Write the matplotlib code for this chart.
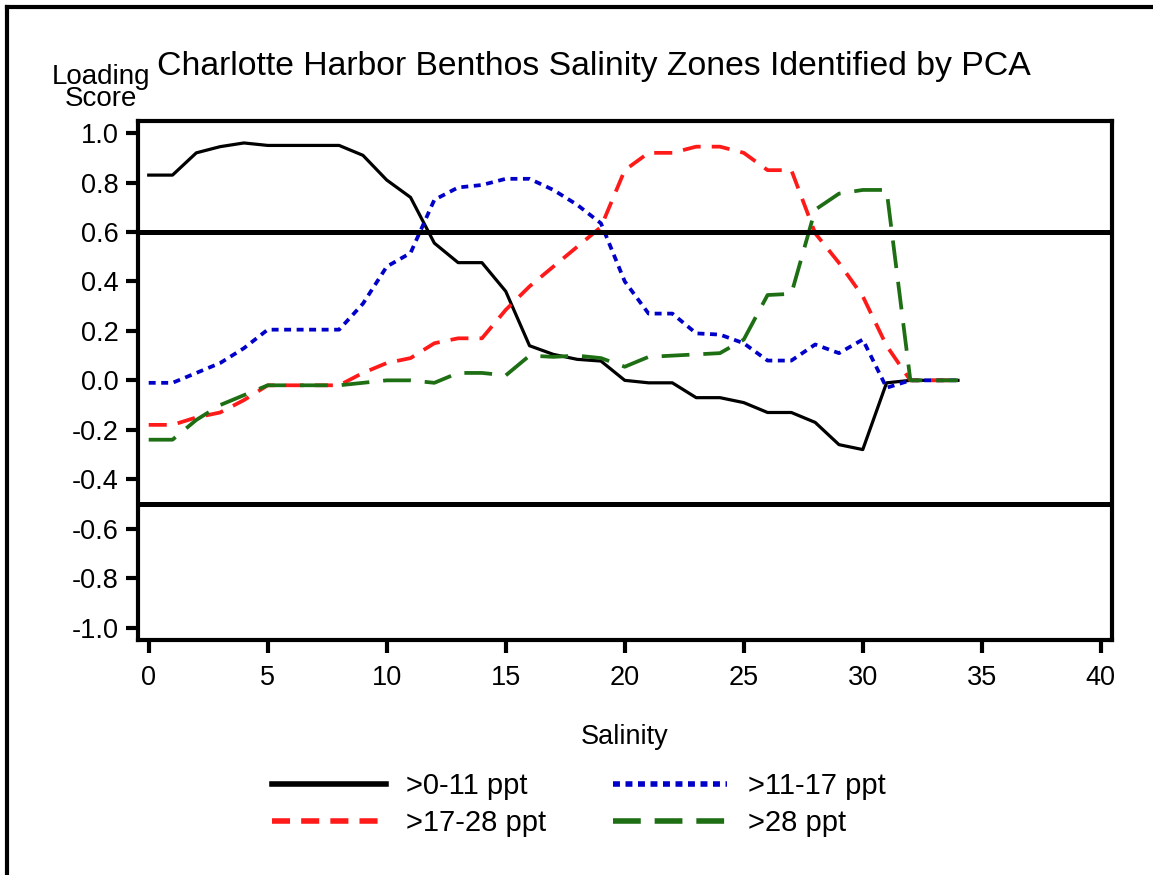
import matplotlib
matplotlib.use("Agg")
import matplotlib.pyplot as plt
from matplotlib.lines import Line2D

plt.rcParams['font.family'] = ['Liberation Sans', 'DejaVu Sans']
plt.rcParams['lines.scale_dashes'] = False

salinity = list(range(0, 35))
zone_0_11 = [0.83, 0.83, 0.92, 0.945, 0.96, 0.95, 0.95, 0.95, 0.95, 0.91,
             0.81, 0.74, 0.555, 0.476, 0.476, 0.36, 0.14, 0.105, 0.085, 0.078,
             0.0, -0.01, -0.01, -0.07, -0.07, -0.09, -0.13, -0.13, -0.17, -0.26,
             -0.28, -0.01, 0.0, 0.0, 0.0]
zone_11_17 = [-0.01, -0.01, 0.03, 0.07, 0.13, 0.205, 0.205, 0.205, 0.205, 0.31,
              0.46, 0.515, 0.73, 0.78, 0.79, 0.815, 0.815, 0.77, 0.71, 0.635,
              0.40, 0.27, 0.27, 0.19, 0.185, 0.15, 0.08, 0.08, 0.145, 0.11,
              0.165, -0.03, 0.0, 0.0, 0.0]
zone_17_28 = [-0.18, -0.18, -0.15, -0.13, -0.08, -0.02, -0.02, -0.02, -0.02, 0.03,
              0.07, 0.09, 0.15, 0.17, 0.17, 0.285, 0.38, 0.46, 0.54, 0.62,
              0.85, 0.92, 0.92, 0.945, 0.945, 0.92, 0.85, 0.85, 0.595, 0.475,
              0.34, 0.14, 0.0, 0.0, 0.0]
zone_28 = [-0.24, -0.24, -0.16, -0.10, -0.06, -0.02, -0.02, -0.02, -0.02, -0.01,
           0.0, 0.0, -0.01, 0.03, 0.03, 0.02, 0.10, 0.095, 0.10, 0.09,
           0.055, 0.095, 0.10, 0.105, 0.11, 0.165, 0.345, 0.35, 0.69, 0.755,
           0.77, 0.77, 0.0, 0.0, 0.0]
labels = [">0-11 ppt", ">11-17 ppt", ">17-28 ppt", ">28 ppt"]
ref_lines = [0.6, -0.5]
x_ticks = [0, 5, 10, 15, 20, 25, 30, 35, 40]
y_ticks = [1.0, 0.8, 0.6, 0.4, 0.2, 0.0, -0.2, -0.4, -0.6, -0.8, -1.0]

W, H = 1153, 875
fig = plt.figure(figsize=(W / 100, H / 100), dpi=100)
ax = fig.add_axes([138 / W, 1 - 640 / H, (1111.5 - 138) / W, (640 - 120.7) / H])

l1, = ax.plot(salinity, zone_0_11, color='black', lw=2.3, solid_joinstyle='round')
l2, = ax.plot(salinity, zone_11_17, color='#0000c8', lw=2.7, dashes=(5, 4))
l3, = ax.plot(salinity, zone_17_28, color='#ff1a1a', lw=2.7, dashes=(13, 8))
l4, = ax.plot(salinity, zone_28, color='#1e6e14', lw=2.7, dashes=(20, 10))

for v in ref_lines:
    ax.axhline(v, color='black', lw=3.6)

ax.set_xlim(-0.45, 40.45)
ax.set_ylim(-1.05, 1.05)
ax.set_xticks(x_ticks)
ax.set_xticklabels([str(t) for t in x_ticks])
ax.set_yticks(y_ticks)
ax.set_yticklabels([f"{t:.1f}" for t in y_ticks])
for s in ax.spines.values():
    s.set_linewidth(3)
ax.tick_params(axis='both', direction='out', length=9, width=3, labelsize=19.5, pad=5)
ax.tick_params(axis='x', pad=9)
ax.set_xlabel("Salinity", fontsize=19.5, labelpad=24)

fig.text(594 / W, 1 - 66 / H, "Charlotte Harbor Benthos Salinity Zones Identified by PCA",
         ha='center', va='center', fontsize=24.3)
fig.text(101 / W, 1 - 88 / H, "Loading\nScore", ha='center', va='center',
         fontsize=20, linespacing=0.75)

# row-major order: ncol=2 fills columns first
leg = ax.legend([l1, l3, l2, l4], [labels[0], labels[2], labels[1], labels[3]],
                ncol=2, frameon=False, fontsize=21,
                handlelength=3.9, handletextpad=0.7, columnspacing=2.3,
                labelspacing=0.31, borderpad=0, borderaxespad=0,
                loc='upper left', bbox_to_anchor=(272 / W, 1 - 772 / H),
                bbox_transform=fig.transFigure)
for h in leg.legend_handles:
    h.set_linewidth(4)

# outer border
fig.add_artist(Line2D([7 / W, 7 / W], [0, 1 - 7 / H], transform=fig.transFigure,
                      color='black', lw=3))
fig.add_artist(Line2D([7 / W, 1], [1 - 7 / H, 1 - 7 / H], transform=fig.transFigure,
                      color='black', lw=3))

fig.savefig("out.png", dpi=100)
